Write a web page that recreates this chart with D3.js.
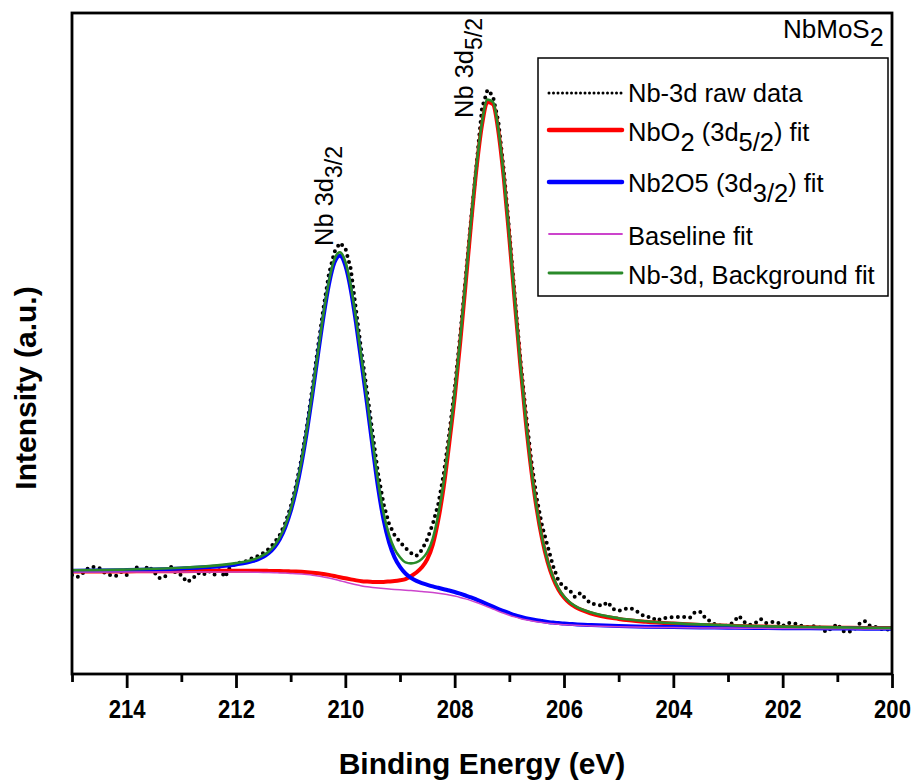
<!DOCTYPE html>
<html>
<head>
<meta charset="utf-8">
<script src="https://cdn.jsdelivr.net/npm/d3@7"></script>
<style>
  html, body { margin: 0; padding: 0; background: #fff; }
  svg { display: block; }
  text { font-family: "Liberation Sans", Arial, sans-serif; fill: #000; }
</style>
</head>
<body>
<svg id="chart" width="920" height="783"></svg>
<script>
// raw XPS counts, 0.1 eV steps from 215 eV down to 200 eV
var rawStart = 215, rawStep = 0.1;
var rawCounts = [
  99, 97, 101, 106, 107, 106, 101, 99, 98, 102,
  99, 104, 107, 103, 108, 102, 96, 97, 108, 101,
  99, 92, 95, 101, 99, 103, 99, 104, 97, 108,
  110, 112, 113, 116, 118, 121, 125, 131, 139, 151,
  167, 189, 216, 249, 287, 327, 366, 400, 422, 431,
  426, 405, 362, 320, 281, 240, 200, 170, 150, 139,
  132, 126, 121, 118, 124, 135, 150, 170, 200, 240,
  285, 338, 396, 455, 510, 566, 584, 578, 552, 503,
  442, 378, 316, 262, 214, 176, 148, 128, 108, 93,
  87, 84, 77, 81, 75, 70, 70, 68, 72, 65,
  63, 65, 66, 64, 60, 57, 57, 53, 56, 56,
  57, 57, 57, 56, 62, 62, 55, 52, 48, 49,
  48, 52, 58, 52, 49, 51, 55, 51, 52, 52,
  48, 51, 51, 49, 47, 47, 48, 46, 42, 46,
  50, 43, 42, 44, 50, 53, 48, 47, 45, 44,
  46
];

// fitted curves, sampled energies (eV)
var fitEnergy = [
  215, 214.5, 214, 213.5, 213, 212.5, 212,
  211.8, 211.7, 211.6, 211.5, 211.4, 211.3, 211.2, 211.1, 211.0, 210.9,
  210.8, 210.7, 210.6, 210.5, 210.4, 210.3, 210.2, 210.1, 210.0, 209.9,
  209.8, 209.7, 209.6, 209.5, 209.4, 209.3, 209.2, 209.1, 209.0, 208.9,
  208.8, 208.7, 208.6, 208.5, 208.4, 208.3, 208.2, 208.1, 208.0, 207.9,
  207.8, 207.7, 207.6, 207.5, 207.4, 207.3, 207.2, 207.1, 207.0, 206.9,
  206.8, 206.7, 206.6, 206.5, 206.4, 206.3, 206.2, 206.1, 206.0, 205.9, 205.8,
  205.5, 205, 204.5, 204, 203.5, 203, 202.5, 202, 201.5, 201, 200.5, 200
];
var baselineFit = [
  102.0, 102.0, 102.0, 102.0, 102.0, 102.0, 102.0,
  101.9, 101.8, 101.7, 101.6, 101.5, 101.3, 101.1, 100.9, 100.6, 100.3,
  99.9, 99.4, 98.8, 98.0, 97.1, 96.0, 94.7, 93.3, 91.9, 90.5,
  89.2, 88.1, 87.2, 86.5, 85.9, 85.4, 85.0, 84.6, 84.2, 83.8,
  83.4, 83.0, 82.5, 82.0, 81.4, 80.7, 79.9, 79.0, 77.9, 76.6,
  75.1, 73.4, 71.5, 69.4, 67.2, 65.0, 62.8, 60.7, 58.8, 57.1,
  55.6, 54.3, 53.2, 52.3, 51.5, 50.8, 50.2, 49.7, 49.3, 49.0, 48.7,
  48.0, 47.2, 46.7, 46.4, 46.1, 45.9, 45.7, 45.5, 45.4, 45.2, 45.1, 45.0
];
var nbo2Fit = [
  102.5, 102.5, 102.6, 102.7, 102.8, 103.0, 103.3,
  103.3, 103.2, 103.2, 103.2, 103.1, 103.0, 102.9, 102.8, 102.6, 102.5,
  102.2, 101.8, 101.3, 100.7, 100.0, 99.1, 98.0, 96.8, 95.7, 94.6,
  93.6, 92.8, 92.4, 92.1, 92.0, 92.1, 92.5, 93.0, 93.8, 94.9,
  97.9, 101.5, 106.7, 114.8, 129.2, 154.0, 187.2, 230.3, 276.6, 330.6,
  390.0, 450.4, 505.9, 549.0, 571.9, 569.7, 542.4, 495.1, 435.8, 372.0,
  309.6, 253.0, 204.5, 165.2, 134.8, 112.1, 95.8, 84.3, 76.5, 71.0, 67.2,
  60.5, 55.1, 52.2, 50.4, 49.1, 48.3, 47.6, 47.1, 46.7, 46.3, 46.1, 45.9
];
var nb2o5Fit = [
  103.2, 103.5, 103.9, 104.5, 105.4, 106.9, 109.6,
  111.4, 112.8, 114.6, 117.2, 121.0, 126.6, 134.8, 146.6, 162.7, 184.1,
  211.1, 243.6, 280.5, 319.5, 357.3, 389.7, 411.4, 418.3, 408.6, 384.2,
  349.4, 309.6, 268.9, 226.4, 186.0, 154.1, 131.6, 116.6, 107.1, 100.5,
  96.1, 93.1, 90.9, 89.2, 87.6, 86.2, 84.8, 83.5, 82.0, 80.3,
  78.5, 76.6, 74.4, 72.1, 69.7, 67.3, 65.0, 62.8, 60.8, 58.9,
  57.3, 55.9, 54.7, 53.7, 52.9, 52.1, 51.4, 50.9, 50.4, 50.1, 49.7,
  48.9, 47.9, 47.3, 46.9, 46.6, 46.3, 46.0, 45.8, 45.7, 45.5, 45.3, 45.2
];
var envelopeFit = [
  103.7, 104.0, 104.5, 105.2, 106.2, 107.9, 110.9,
  112.8, 114.2, 116.1, 118.8, 122.6, 128.3, 136.6, 148.5, 164.7, 186.3,
  213.4, 246.0, 283.0, 322.2, 360.2, 392.8, 414.7, 421.8, 412.4, 388.3,
  353.8, 314.3, 274.1, 232.0, 192.1, 160.8, 139.1, 125.0, 116.7, 111.6,
  110.6, 111.6, 115.1, 122.0, 135.4, 159.5, 192.1, 234.8, 280.7, 334.3,
  393.4, 453.6, 508.8, 551.7, 574.4, 572.0, 544.6, 497.2, 437.8, 373.8,
  311.3, 254.6, 206.0, 166.6, 136.2, 113.4, 97.0, 85.5, 77.6, 72.1, 68.2,
  61.4, 55.8, 52.8, 50.9, 49.6, 48.7, 47.9, 47.4, 47.0, 46.6, 46.3, 46.1
];

var majorTicks = [214, 212, 210, 208, 206, 204, 202, 200];
var minorTicks = [215, 213, 211, 209, 207, 205, 203, 201];

var plotLeft = 72, plotRight = 892, plotTop = 13, plotBottom = 674;

var svg = d3.select("#chart");
svg.append("rect").attr("width", 920).attr("height", 783).attr("fill", "#fff");

var x = d3.scaleLinear().domain([215, 200]).range([plotLeft, plotRight]);
var y = d3.scaleLinear().domain([0, 661]).range([plotBottom, plotTop]);

svg.append("clipPath").attr("id", "clip")
  .append("rect")
  .attr("x", plotLeft).attr("y", plotTop)
  .attr("width", plotRight - plotLeft).attr("height", plotBottom - plotTop);

var plot = svg.append("g").attr("clip-path", "url(#clip)");

// raw data, dotted
var rawEnergy = rawCounts.map(function(v, i) { return rawStart - i * rawStep; });
plot.append("path")
  .attr("d", d3.line()
    .x(function(d, i) { return x(rawEnergy[i]); })
    .y(function(d) { return y(d); })(rawCounts))
  .attr("fill", "none")
  .attr("stroke", "#000")
  .attr("stroke-width", 4)
  .attr("stroke-linecap", "round")
  .attr("stroke-dasharray", "0,6.3");

function fitLine(values) {
  return d3.line()
    .x(function(d, i) { return x(fitEnergy[i]); })
    .y(function(d) { return y(d); })
    .curve(d3.curveMonotoneX)(values);
}

var series = [
  { values: nbo2Fit, color: "#ff0000", w: 4 },
  { values: nb2o5Fit, color: "#0000ff", w: 4 },
  { values: baselineFit, color: "#cc44cc", w: 1.5 },
  { values: envelopeFit, color: "#2a8a2a", w: 2.6 }
];

series.forEach(function(s) {
  plot.append("path")
    .attr("d", fitLine(s.values))
    .attr("fill", "none")
    .attr("stroke", s.color)
    .attr("stroke-width", s.w)
    .attr("stroke-linejoin", "round");
});

// frame
svg.append("rect")
  .attr("x", plotLeft).attr("y", plotTop)
  .attr("width", plotRight - plotLeft).attr("height", plotBottom - plotTop)
  .attr("fill", "none").attr("stroke", "#000").attr("stroke-width", 2.8);

// x axis
var majorAxis = d3.axisBottom(x).tickValues(majorTicks).tickSize(14).tickPadding(12)
  .tickFormat(d3.format("d"));
var minorAxis = d3.axisBottom(x).tickValues(minorTicks).tickSize(8).tickFormat("");

var gMajor = svg.append("g").attr("transform", "translate(0," + plotBottom + ")").call(majorAxis);
var gMinor = svg.append("g").attr("transform", "translate(0," + plotBottom + ")").call(minorAxis);
[gMajor, gMinor].forEach(function(g) {
  g.select(".domain").remove();
  g.selectAll(".tick line").attr("stroke", "#000").attr("stroke-width", 2.8);
});
// tick labels are a narrow bold face in the original
gMajor.selectAll(".tick text")
  .attr("font-family", "'Liberation Sans', Arial, sans-serif")
  .attr("font-size", 26)
  .attr("font-weight", "bold")
  .attr("fill", "#000")
  .attr("transform", "scale(0.85,1)");

// axis titles
svg.append("text")
  .attr("x", (plotLeft + plotRight) / 2).attr("y", 774)
  .attr("text-anchor", "middle")
  .attr("font-size", 30).attr("font-weight", "bold")
  .text("Binding Energy (eV)");

svg.append("text")
  .attr("transform", "translate(36,388) rotate(-90)")
  .attr("text-anchor", "middle")
  .attr("font-size", 30).attr("font-weight", "bold")
  .text("Intensity (a.u.)");

// sample name
var sample = svg.append("text").attr("x", 783).attr("y", 38).attr("font-size", 26);
sample.append("tspan").text("NbMoS");
sample.append("tspan").attr("dy", 8).attr("font-size", 25).text("2");

// peak labels
function peakLabel(px, py, sub) {
  var t = svg.append("text")
    .attr("transform", "translate(" + px + "," + py + ") rotate(-90)")
    .attr("font-size", 25.5);
  t.append("tspan").text("Nb 3d");
  t.append("tspan").attr("dy", 9).attr("font-size", 23).text(sub);
}
peakLabel(333, 246, "3/2");
peakLabel(473, 118, "5/2");

// legend
var legend = svg.append("g");
legend.append("rect")
  .attr("x", 538).attr("y", 58).attr("width", 350).attr("height", 238)
  .attr("fill", "#fff").attr("stroke", "#000").attr("stroke-width", 1.5);

var legendRows = [
  { y: 93, color: "#000", w: 3, dash: "0,4.5" },
  { y: 130, color: "#ff0000", w: 4.5 },
  { y: 182, color: "#0000ff", w: 4.5 },
  { y: 234, color: "#cc44cc", w: 1.8 },
  { y: 273, color: "#2a8a2a", w: 2.8 }
];
legendRows.forEach(function(r) {
  legend.append("line")
    .attr("x1", 549).attr("x2", 622).attr("y1", r.y).attr("y2", r.y)
    .attr("stroke", r.color).attr("stroke-width", r.w)
    .attr("stroke-linecap", "round")
    .attr("stroke-dasharray", r.dash || null);
});

function legendText(ty, parts) {
  var t = legend.append("text").attr("x", 628).attr("y", ty).attr("font-size", 25.5);
  parts.forEach(function(p) {
    var s = t.append("tspan").text(p[0]);
    if (p[1]) s.attr("dy", p[1]);
  });
}
legendText(102, [["Nb-3d raw data"]]);
legendText(141, [["NbO"], ["2", 10], [" (3d", -10], ["5/2", 10], [") fit", -10]]);
legendText(192, [["Nb2O5 (3d"], ["3/2", 10], [") fit", -10]]);
legendText(245, [["Baseline fit"]]);
legendText(284, [["Nb-3d, Background fit"]]);
</script>
</body>
</html>
